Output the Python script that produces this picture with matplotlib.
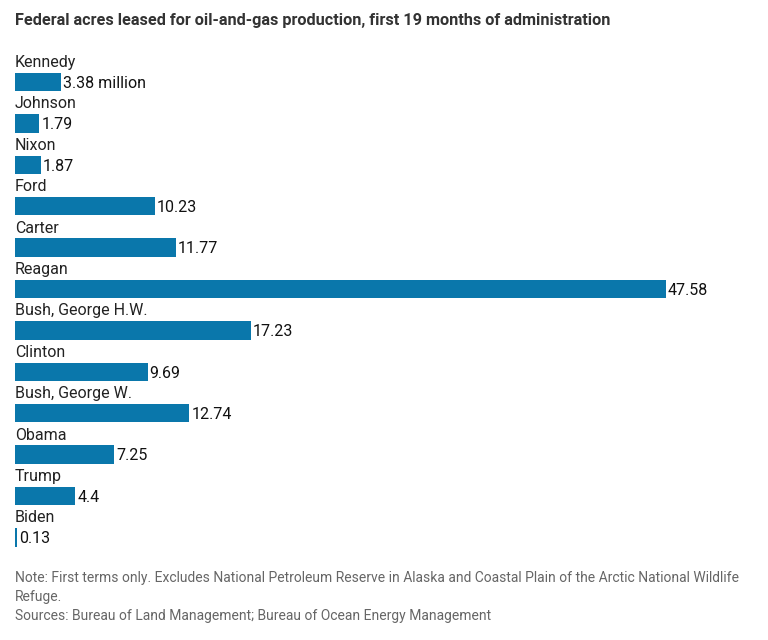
import matplotlib
matplotlib.use("Agg")
import matplotlib.pyplot as plt

# Data (million acres, first 19 months of administration)
presidents = ["Kennedy", "Johnson", "Nixon", "Ford", "Carter", "Reagan",
              "Bush, George H.W.", "Clinton", "Bush, George W.", "Obama",
              "Trump", "Biden"]
acres = [3.38, 1.79, 1.87, 10.23, 11.77, 47.58, 17.23, 9.69, 12.74, 7.25, 4.4, 0.13]
value_labels = ["3.38 million", "1.79", "1.87", "10.23", "11.77", "47.58",
                "17.23", "9.69", "12.74", "7.25", "4.4", "0.13"]

plt.rcParams["font.family"] = ["Roboto", "DejaVu Sans"]

fig = plt.figure(figsize=(7.68, 6.4), dpi=100)
W, H = 768, 640

# axes placed in pixel terms: left 15px, top 40px, bottom 560px
top_px, bot_px = 40, 560
ax = fig.add_axes([15 / W, 1 - bot_px / H, (W - 15) / W, (bot_px - top_px) / H])
row0, step = 82, 41.4
ax.set_ylim((bot_px - row0) / step, (top_px - row0) / step)
ax.set_xlim(0, (W - 15) / 13.68)
ax.axis("off")

bar_color = "#0a77ab"
ypos = list(range(len(presidents)))
ax.barh(ypos, acres, height=0.44, color=bar_color, align="center")

for i, (name, v, lab) in enumerate(zip(presidents, acres, value_labels)):
    ax.text(0, i - 0.47, name, fontsize=11.5, color="#222222", va="center", ha="left")
    ax.text(v + 0.15, i + 0.03, lab, fontsize=11.5, color="#111111", va="center", ha="left")

fig.text(15 / W, 1 - 20 / H, "Federal acres leased for oil-and-gas production, first 19 months of administration",
         fontsize=11.7, fontweight="bold", color="#333333", va="center", ha="left")

note_color = "#666666"
fig.text(15 / W, 1 - 578 / H,
         "Note: First terms only. Excludes National Petroleum Reserve in Alaska and Coastal Plain of the Arctic National Wildlife",
         fontsize=10, color=note_color, va="center", ha="left")
fig.text(15 / W, 1 - 597 / H, "Refuge.", fontsize=10, color=note_color, va="center", ha="left")
fig.text(15 / W, 1 - 616 / H, "Sources: Bureau of Land Management; Bureau of Ocean Energy Management",
         fontsize=10, color=note_color, va="center", ha="left")

fig.savefig("out.png", dpi=100)
